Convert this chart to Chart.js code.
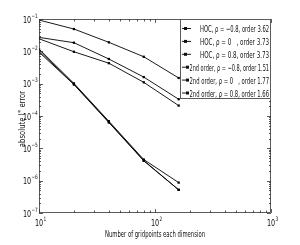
<!DOCTYPE html>
<html><head><meta charset="utf-8">
<script src="https://cdn.jsdelivr.net/npm/chart.js@4/dist/chart.umd.min.js"></script>
<style>html,body{margin:0;padding:0;background:#fff}#c{display:block}</style>
</head><body>
<div style="width:300px;height:245px"><canvas id="c" width="300" height="245"></canvas></div>
<script>
const gridpoints = [10, 20, 40, 80, 160];
const hocM08 = [0.0118, 0.00102, 6.9e-5, 4.5e-6, 8.7e-7];
const hoc0   = [0.0105, 0.00097, 6.5e-5, 4.2e-6, 5.2e-7];
const hocP08 = [0.0095, 0.00094, 6.3e-5, 4.1e-6, 5.2e-7];
const so2M08 = [0.093, 0.049, 0.019, 0.0068, 0.0015];
const so2_0  = [0.027, 0.0185, 0.0058, 0.0016, 0.00033];
const so2P08 = [0.0245, 0.0097, 0.0043, 0.0011, 0.00021];
const legendLabels = [
  'HOC, \u03C1 = \u22120.8, order 3.62',
  'HOC, \u03C1 = 0   , order 3.73',
  'HOC, \u03C1 = 0.8, order 3.73',
  '2nd order, \u03C1 = \u22120.8, order 1.51',
  '2nd order, \u03C1 = 0   , order 1.77',
  '2nd order, \u03C1 = 0.8, order 1.66'
];
const xTickExps = [1, 2, 3];
const yTickExps = [-1, -2, -3, -4, -5, -6, -7];
const xTitle = 'Number of gridpoints each dimension';
const yTitleMain = 'absolute l';
const yTitleSup = '\u221E';
const yTitleEnd = ' error';

const FONT = '"Liberation Sans Narrow","DejaVu Sans Condensed","Liberation Sans",Arial,sans-serif';
const series = [hocM08, hoc0, hocP08, so2M08, so2_0, so2P08];

function mk(data, i) {
  return {
    label: legendLabels[i],
    data: gridpoints.map((x, k) => ({x: x, y: data[k]})),
    borderColor: '#000', backgroundColor: '#000',
    borderWidth: 0.9, pointRadius: 1.6, pointStyle: 'rect',
    pointBorderWidth: 0, tension: 0, fill: false
  };
}

function drawCompressed(ctx, text, x, y, size, targetW, align) {
  ctx.save();
  ctx.font = size + 'px ' + FONT;
  const w = ctx.measureText(text).width;
  const s = targetW ? Math.min(1, targetW / w) : 1;
  let x0 = x;
  const ww = w * s;
  if (align === 'right') x0 = x - ww;
  else if (align === 'center') x0 = x - ww / 2;
  ctx.translate(x0, y);
  ctx.scale(s, 1);
  ctx.textAlign = 'left';
  ctx.textBaseline = 'alphabetic';
  ctx.fillText(text, 0, 0);
  ctx.restore();
}

function drawPow(ctx, exp, x, y, align) {
  ctx.save();
  ctx.fillStyle = '#111';
  ctx.font = '9px ' + FONT;
  const base = '10';
  const bw = ctx.measureText(base).width * 0.8;
  ctx.font = '6px ' + FONT;
  const es = String(exp).replace('-', '\u2212');
  const ew = ctx.measureText(es).width * 0.8;
  let x0 = x;
  if (align === 'right') x0 = x - bw - ew;
  else if (align === 'center') x0 = x - bw / 2;
  drawCompressed(ctx, base, x0, y, 9, bw, 'left');
  drawCompressed(ctx, es, x0 + bw + 0.3, y - 5, 6, ew, 'left');
  ctx.restore();
}

const axesPlugin = {
  id: 'axesPlugin',
  afterDatasetsDraw(chart) {
    const ctx = chart.ctx;
    const a = chart.chartArea;
    const xs = chart.scales.x, ys = chart.scales.y;
    ctx.save();
    ctx.strokeStyle = '#333';
    ctx.lineWidth = 0.8;
    ctx.strokeRect(a.left + 0.5, a.top + 0.5, a.right - a.left - 1, a.bottom - a.top - 1);
    ctx.beginPath();
    for (let e = 1; e <= 3; e++) {
      for (let m = 1; m <= 9; m++) {
        const v = m * Math.pow(10, e);
        if (v > 1000) break;
        const px = Math.round(xs.getPixelForValue(v)) + 0.5;
        const L = m === 1 ? 4 : 2.5;
        ctx.moveTo(px, a.bottom); ctx.lineTo(px, a.bottom - L);
        ctx.moveTo(px, a.top); ctx.lineTo(px, a.top + L);
      }
    }
    for (let e = -7; e <= -1; e++) {
      for (let m = 1; m <= 9; m++) {
        const v = m * Math.pow(10, e);
        if (v > 0.1 + 1e-12) break;
        const py = Math.round(ys.getPixelForValue(v)) + 0.5;
        const L = m === 1 ? 4 : 2;
        ctx.moveTo(a.left, py); ctx.lineTo(a.left + L, py);
        ctx.moveTo(a.right, py); ctx.lineTo(a.right - L, py);
      }
    }
    ctx.stroke();
    xTickExps.forEach(e => {
      const px = xs.getPixelForValue(Math.pow(10, e));
      drawPow(ctx, e, px, a.bottom + 13, 'center');
    });
    yTickExps.forEach(e => {
      const py = ys.getPixelForValue(Math.pow(10, e));
      drawPow(ctx, e, a.left - 1.5, py + 3.5, 'right');
    });
    ctx.fillStyle = '#111';
    drawCompressed(ctx, xTitle, (a.left + a.right) / 2, a.bottom + 24, 9.5, 100, 'center');
    ctx.save();
    ctx.translate(25, (a.top + a.bottom) / 2 + 3);
    ctx.rotate(-Math.PI / 2);
    ctx.font = '9px ' + FONT;
    const w1 = ctx.measureText(yTitleMain).width * 0.85;
    ctx.font = '6px ' + FONT;
    const w2 = ctx.measureText(yTitleSup).width * 0.85;
    ctx.font = '9px ' + FONT;
    const w3 = ctx.measureText(yTitleEnd).width * 0.85;
    const tot = w1 + w2 + w3;
    let x0 = -tot / 2;
    drawCompressed(ctx, yTitleMain, x0, 0, 9, w1, 'left');
    drawCompressed(ctx, yTitleSup, x0 + w1 + 0.3, -4.5, 6, w2, 'left');
    drawCompressed(ctx, yTitleEnd, x0 + w1 + w2, 0, 9, w3, 'left');
    ctx.restore();

    const lx = 180, lr = a.right, ly = a.top, lb = 99;
    ctx.fillStyle = '#fff';
    ctx.fillRect(lx, ly, lr - lx, lb - ly);
    ctx.strokeStyle = '#333';
    ctx.strokeRect(lx + 0.5, ly + 0.5, lr - lx - 1, lb - ly - 1);
    ctx.fillStyle = '#111';
    ctx.strokeStyle = '#000';
    ctx.lineWidth = 0.9;
    legendLabels.forEach((t, i) => {
      const cy = 28.5 + i * 12.9;
      const isHoc = i < 3;
      ctx.beginPath();
      ctx.moveTo(182, cy); ctx.lineTo(isHoc ? 191 : 189, cy);
      ctx.stroke();
      const mx = isHoc ? 185.5 : 187.5;
      ctx.fillRect(mx - 1.5, cy - 1.5, 3, 3);
      const startX = isHoc ? 200 : 189.5;
      drawCompressed(ctx, t, lr - 2, cy + 3.5, 9.5, lr - 2 - startX, 'right');
    });
    ctx.restore();
  }
};

new Chart(document.getElementById('c'), {
  type: 'line',
  data: { datasets: series.map(mk) },
  options: {
    responsive: false, animation: false, devicePixelRatio: 1,
    layout: { padding: { left: 39, right: 29, top: 19, bottom: 32 } },
    plugins: { legend: { display: false }, tooltip: { enabled: false } },
    scales: {
      x: { type: 'logarithmic', min: 10, max: 1000, display: false },
      y: { type: 'logarithmic', min: 1e-7, max: 0.1, display: false }
    }
  },
  plugins: [axesPlugin]
});
</script>
</body></html>
